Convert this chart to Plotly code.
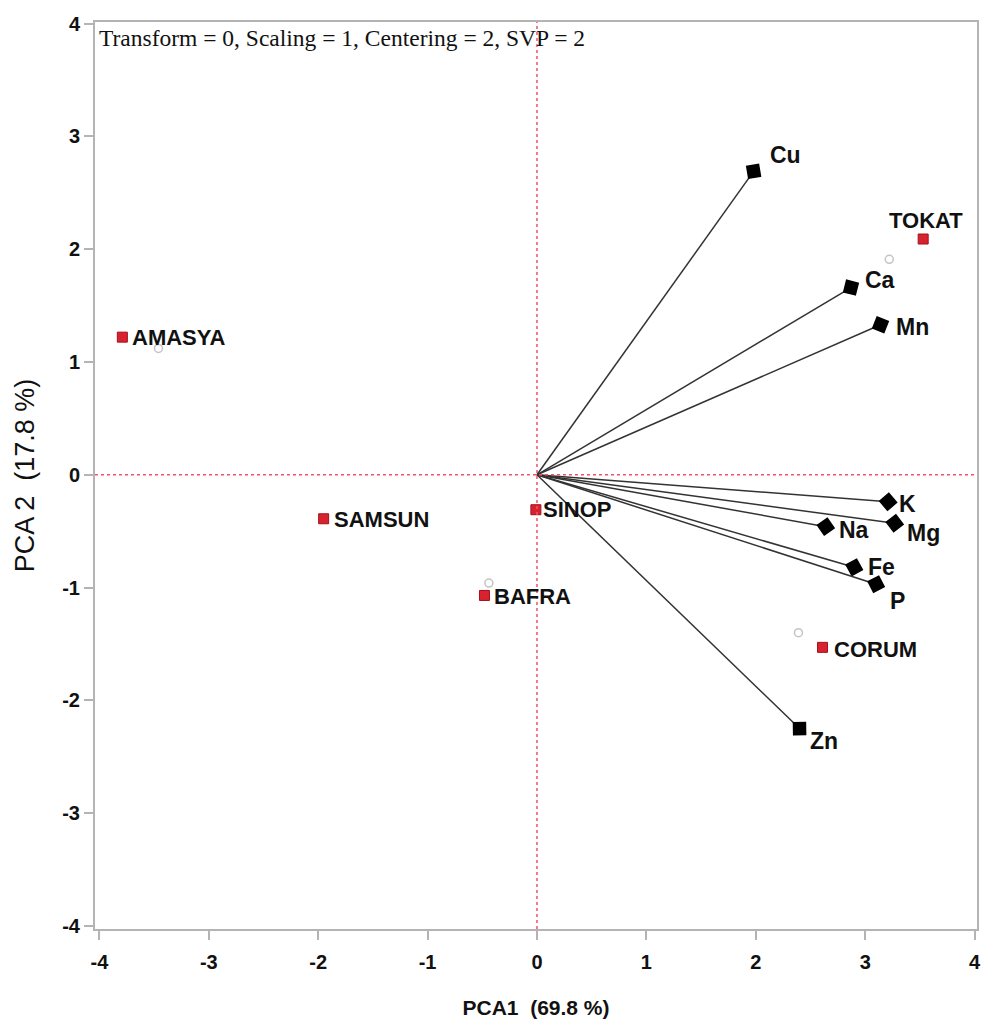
import plotly.graph_objects as go

# Sites (scores)
sites = ["TOKAT", "AMASYA", "SAMSUN", "SINOP", "BAFRA", "CORUM"]
site_x = [3.53, -3.79, -1.95, -0.01, -0.48, 2.61]
site_y = [2.09, 1.22, -0.39, -0.31, -1.07, -1.53]

# Supplementary points (gray hollow circles)
ghost_x = [3.22, -3.46, -0.44, 2.39]
ghost_y = [1.91, 1.12, -0.96, -1.40]

# Variable loadings (vectors)
vars_ = ["Cu", "Ca", "Mn", "K", "Mg", "Na", "Fe", "P", "Zn"]
var_x = [1.98, 2.87, 3.14, 3.21, 3.27, 2.64, 2.90, 3.10, 2.40]
var_y = [2.69, 1.66, 1.33, -0.24, -0.43, -0.46, -0.82, -0.97, -2.25]

# Tick labels
tick_vals = [-4, -3, -2, -1, 0, 1, 2, 3, 4]
tick_text = ["-4", "-3", "-2", "-1", "0", "1", "2", "3", "4"]

# label offsets in pixels (style): (xshift, yshift)
site_anchor = ["center", "left", "left", "left", "left", "left"]
site_shift = [(3, 19), (8, 0), (8, -1), (5, 0), (8, -1), (9, -2)]
var_shift = [(14, 16), (12, 8), (13, -2), (9, -2), (10, -10), (11, -3), (12, 0), (12, -17), (8, -12)]

LABEL_FONT = "Liberation Sans, Arial, sans-serif"
INK = "#111111"

fig = go.Figure()

# zero reference lines
fig.add_hline(y=0, line=dict(color="#f2506a", width=1.5, dash="dot"))
fig.add_vline(x=0, line=dict(color="#f2506a", width=1.5, dash="dot"))

# vectors
for x, y in zip(var_x, var_y):
    fig.add_trace(go.Scatter(
        x=[0, x], y=[0, y], mode="lines+markers",
        line=dict(color="#333333", width=1.5),
        marker=dict(symbol="diamond", size=[0, 13], color="#000000", opacity=1,
                    angleref="previous", line=dict(color="#000000", width=1.5)),
        showlegend=False, hoverinfo="skip"))

for name, x, y, (dx, dy) in zip(vars_, var_x, var_y, var_shift):
    fig.add_annotation(x=x, y=y, text=name, showarrow=False, xanchor="left", yanchor="middle",
                       xshift=dx, yshift=dy,
                       font=dict(family=LABEL_FONT, size=23, color=INK, weight="bold"))

# ghost circles
fig.add_trace(go.Scatter(
    x=ghost_x, y=ghost_y, mode="markers",
    marker=dict(symbol="circle-open", size=8, color="#c4c4c4", line=dict(width=1.5)),
    showlegend=False, hoverinfo="skip"))

# sites
fig.add_trace(go.Scatter(
    x=site_x, y=site_y, mode="markers",
    marker=dict(symbol="square", size=10, color="#d8232f", opacity=1,
                line=dict(color="#a01020", width=1)),
    showlegend=False, hoverinfo="skip"))

for name, x, y, anc, (dx, dy) in zip(sites, site_x, site_y, site_anchor, site_shift):
    fig.add_annotation(x=x, y=y, text=name, showarrow=False, xanchor=anc, yanchor="middle",
                       xshift=dx, yshift=dy,
                       font=dict(family=LABEL_FONT, size=22, color=INK, weight="bold"))

fig.add_annotation(
    x=0, y=1, xref="paper", yref="paper", xanchor="left", yanchor="top",
    xshift=2, yshift=-1,
    text="Transform = 0, Scaling = 1, Centering = 2, SVP = 2", showarrow=False,
    font=dict(family="Liberation Serif, Times New Roman, serif", size=23.5, color=INK))

axis_common = dict(
    showgrid=False, zeroline=False, showline=True, linecolor="#b4b4b4", linewidth=2,
    mirror=True, ticks="outside", tickcolor="#b4b4b4", ticklen=9, tickwidth=1.5,
    tickmode="array", tickvals=tick_vals, ticktext=tick_text, automargin=False,
    tickfont=dict(family=LABEL_FONT, size=20, color=INK, weight="bold"),
)

fig.update_layout(
    width=982, height=1020,
    margin=dict(l=95, r=5, t=22, b=91),
    plot_bgcolor="white", paper_bgcolor="white",
    xaxis=dict(range=[-4.04, 4.022], ticklabelstandoff=5,
               title=dict(text="PCA1\u00a0 (69.8 %)", standoff=28,
                          font=dict(family=LABEL_FONT, size=21, color=INK, weight="bold")),
               **axis_common),
    yaxis=dict(range=[-4.027, 4.014], ticklabelstandoff=0,
               title=dict(text="PCA 2\u00a0 (17.8 %)", standoff=20,
                          font=dict(family=LABEL_FONT, size=27, color=INK)),
               **axis_common),
)

fig.write_html("out.html", config={"displayModeBar": False},
               post_script="document.body.style.margin='0';document.body.style.overflow='hidden';")
